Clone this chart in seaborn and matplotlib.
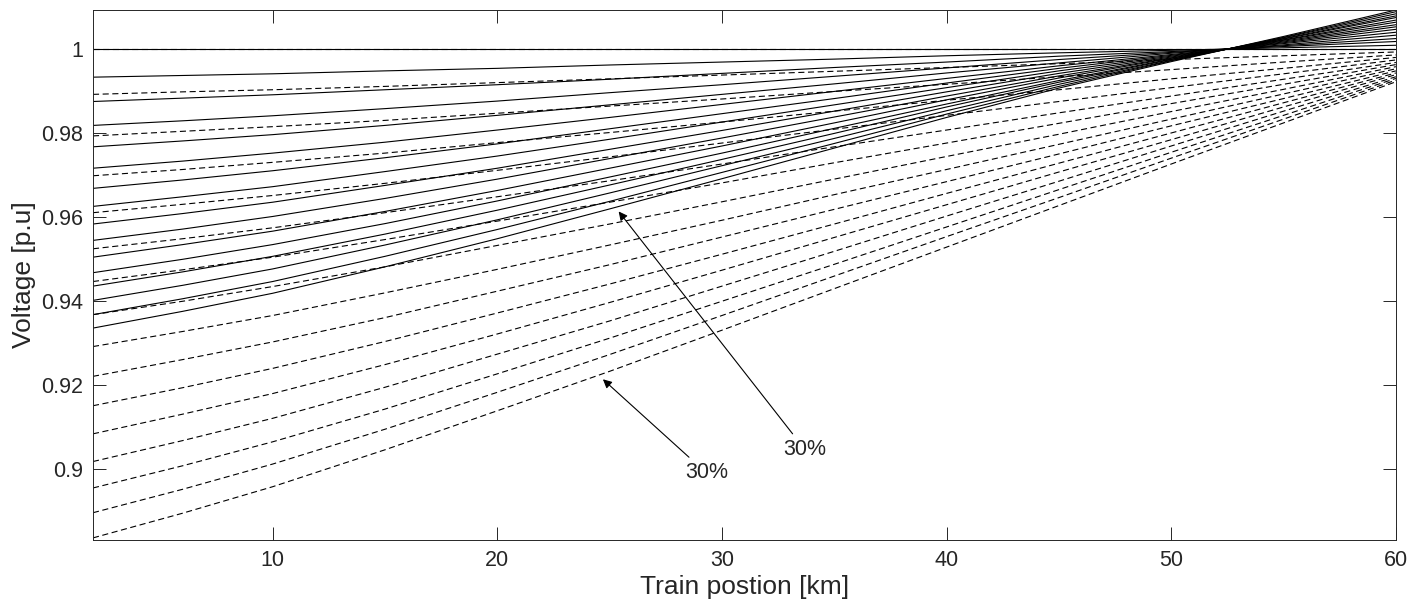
import pandas as pd
import numpy as np
import matplotlib
matplotlib.use("Agg")
import matplotlib.pyplot as plt
import seaborn as sns

x_solid = [2, 6, 10, 15, 20, 25, 30, 35, 40, 45, 50, 52.5, 55, 60]
x_dashed = [2, 6, 10, 15, 20, 25, 30, 35, 40, 45, 50, 55, 60]

# solid curves, 0% .. 30% in 2% steps
solid = [
    [1.0] * 14,
    [0.9933, 0.9937, 0.9941, 0.9948, 0.9954, 0.9962, 0.9969, 0.9976, 0.9984, 0.9991, 0.9997, 1.0, 1.0003, 1.0009],
    [0.9875, 0.9883, 0.9891, 0.9903, 0.9915, 0.9928, 0.9942, 0.9956, 0.9969, 0.9983, 0.9994, 1.0, 1.0006, 1.0018],
    [0.9818, 0.9829, 0.9841, 0.9858, 0.9876, 0.9896, 0.9915, 0.9935, 0.9955, 0.9975, 0.9992, 1.0, 1.0008, 1.0025],
    [0.9767, 0.9781, 0.9796, 0.9818, 0.9842, 0.9867, 0.9892, 0.9917, 0.9943, 0.9967, 0.9990, 1.0, 1.0010, 1.0033],
    [0.9716, 0.9733, 0.9752, 0.9778, 0.9807, 0.9837, 0.9868, 0.9899, 0.9930, 0.9960, 0.9987, 1.0, 1.0013, 1.0040],
    [0.9668, 0.9688, 0.9710, 0.9741, 0.9774, 0.9810, 0.9846, 0.9882, 0.9919, 0.9954, 0.9985, 1.0, 1.0015, 1.0047],
    [0.9625, 0.9648, 0.9672, 0.9708, 0.9745, 0.9785, 0.9826, 0.9867, 0.9908, 0.9948, 0.9983, 1.0, 1.0017, 1.0053],
    [0.9583, 0.9608, 0.9635, 0.9675, 0.9716, 0.9761, 0.9806, 0.9852, 0.9898, 0.9942, 0.9981, 1.0, 1.0019, 1.0058],
    [0.9544, 0.9571, 0.9601, 0.9644, 0.9690, 0.9739, 0.9788, 0.9838, 0.9888, 0.9936, 0.9979, 1.0, 1.0021, 1.0064],
    [0.9504, 0.9534, 0.9566, 0.9613, 0.9663, 0.9716, 0.9769, 0.9824, 0.9879, 0.9931, 0.9978, 1.0, 1.0022, 1.0069],
    [0.9467, 0.9499, 0.9534, 0.9584, 0.9638, 0.9695, 0.9752, 0.9811, 0.9869, 0.9925, 0.9976, 1.0, 1.0024, 1.0075],
    [0.9435, 0.9469, 0.9506, 0.9559, 0.9616, 0.9676, 0.9737, 0.9799, 0.9862, 0.9921, 0.9975, 1.0, 1.0025, 1.0079],
    [0.9401, 0.9437, 0.9476, 0.9533, 0.9593, 0.9657, 0.9722, 0.9787, 0.9853, 0.9916, 0.9973, 1.0, 1.0027, 1.0084],
    [0.9367, 0.9405, 0.9446, 0.9506, 0.9570, 0.9637, 0.9706, 0.9775, 0.9845, 0.9911, 0.9972, 1.0, 1.0028, 1.0089],
    [0.9335, 0.9375, 0.9418, 0.9481, 0.9548, 0.9619, 0.9691, 0.9764, 0.9837, 0.9907, 0.9970, 1.0, 1.0030, 1.0093],
]

# dashed curves, 0% .. 30% in 2% steps
dashed = [
    [1.0] * 13,
    [0.9892, 0.9898, 0.9903, 0.9911, 0.9920, 0.9929, 0.9938, 0.9947, 0.9956, 0.9965, 0.9975, 0.9984, 0.9993],
    [0.9793, 0.9804, 0.9815, 0.9830, 0.9847, 0.9864, 0.9881, 0.9899, 0.9916, 0.9934, 0.9951, 0.9969, 0.9986],
    [0.9698, 0.9713, 0.9730, 0.9752, 0.9777, 0.9801, 0.9826, 0.9852, 0.9878, 0.9903, 0.9929, 0.9954, 0.9980],
    [0.9610, 0.9630, 0.9651, 0.9680, 0.9711, 0.9743, 0.9776, 0.9809, 0.9842, 0.9875, 0.9908, 0.9941, 0.9974],
    [0.9524, 0.9548, 0.9574, 0.9610, 0.9648, 0.9686, 0.9726, 0.9767, 0.9807, 0.9848, 0.9888, 0.9928, 0.9968],
    [0.9446, 0.9474, 0.9504, 0.9546, 0.9590, 0.9635, 0.9681, 0.9729, 0.9776, 0.9823, 0.9870, 0.9916, 0.9963],
    [0.9367, 0.9399, 0.9434, 0.9481, 0.9532, 0.9583, 0.9636, 0.9690, 0.9744, 0.9797, 0.9851, 0.9904, 0.9958],
    [0.9291, 0.9327, 0.9365, 0.9419, 0.9475, 0.9533, 0.9592, 0.9653, 0.9713, 0.9773, 0.9833, 0.9893, 0.9953],
    [0.9220, 0.9260, 0.9302, 0.9360, 0.9423, 0.9486, 0.9552, 0.9618, 0.9684, 0.9750, 0.9817, 0.9882, 0.9948],
    [0.9150, 0.9193, 0.9239, 0.9303, 0.9371, 0.9440, 0.9511, 0.9583, 0.9656, 0.9728, 0.9800, 0.9872, 0.9943],
    [0.9083, 0.9130, 0.9179, 0.9248, 0.9321, 0.9396, 0.9473, 0.9551, 0.9629, 0.9707, 0.9784, 0.9862, 0.9939],
    [0.9017, 0.9067, 0.9120, 0.9194, 0.9273, 0.9352, 0.9435, 0.9518, 0.9602, 0.9685, 0.9769, 0.9852, 0.9934],
    [0.8954, 0.9007, 0.9064, 0.9142, 0.9226, 0.9311, 0.9399, 0.9487, 0.9576, 0.9665, 0.9754, 0.9842, 0.9930],
    [0.8895, 0.8951, 0.9011, 0.9094, 0.9182, 0.9272, 0.9365, 0.9459, 0.9553, 0.9646, 0.9740, 0.9833, 0.9926],
    [0.8835, 0.8894, 0.8957, 0.9045, 0.9138, 0.9232, 0.9330, 0.9429, 0.9528, 0.9627, 0.9726, 0.9824, 0.9922],
]

xticks = [10, 20, 30, 40, 50, 60]
yticks = [0.9, 0.92, 0.94, 0.96, 0.98, 1.0]
ytick_labels = ["0.9", "0.92", "0.94", "0.96", "0.98", "1"]

sns.set_style("ticks")
plt.rcParams['font.family'] = ['Liberation Sans', 'DejaVu Sans']

fig = plt.figure(figsize=(14.26, 6.11), dpi=100)
ax = fig.add_axes([0.0652, 0.1162, 0.9137, 0.8674])

for v in solid:
    sns.lineplot(x=x_solid, y=v, ax=ax, color='k', lw=0.8)
for v in dashed:
    sns.lineplot(x=x_dashed, y=v, ax=ax, color='k', lw=0.8,
                 linestyle=(0, (5.5, 3.2)))

ax.set_xlim(2, 60)
ax.set_ylim(0.883, 1.0093)
ax.set_xticks(xticks)
ax.set_yticks(yticks)
ax.set_yticklabels(ytick_labels)
ax.tick_params(direction='in', length=9.5, width=0.7, color='#262626',
               labelsize=15.5, top=True, right=True, labelcolor='#262626', pad=7)
for s in ax.spines.values():
    s.set_visible(True)
    s.set_color('#262626')
    s.set_linewidth(0.7)

ax.set_xlabel("Train postion [km]", fontsize=19, color='#262626', labelpad=3)
ax.set_ylabel("Voltage [p.u]", fontsize=19, color='#262626', labelpad=4)

arrow = dict(arrowstyle='-|>', color='k', lw=0.8, mutation_scale=13, shrinkA=2, shrinkB=0)
ax.annotate("30%", xy=(25.4, 0.9613), xytext=(33.7, 0.9045), fontsize=15.5,
            ha='center', va='center', arrowprops=arrow)
ax.annotate("30%", xy=(24.7, 0.9213), xytext=(29.3, 0.899), fontsize=15.5,
            ha='center', va='center', arrowprops=arrow)

fig.savefig("out.png", dpi=100)
